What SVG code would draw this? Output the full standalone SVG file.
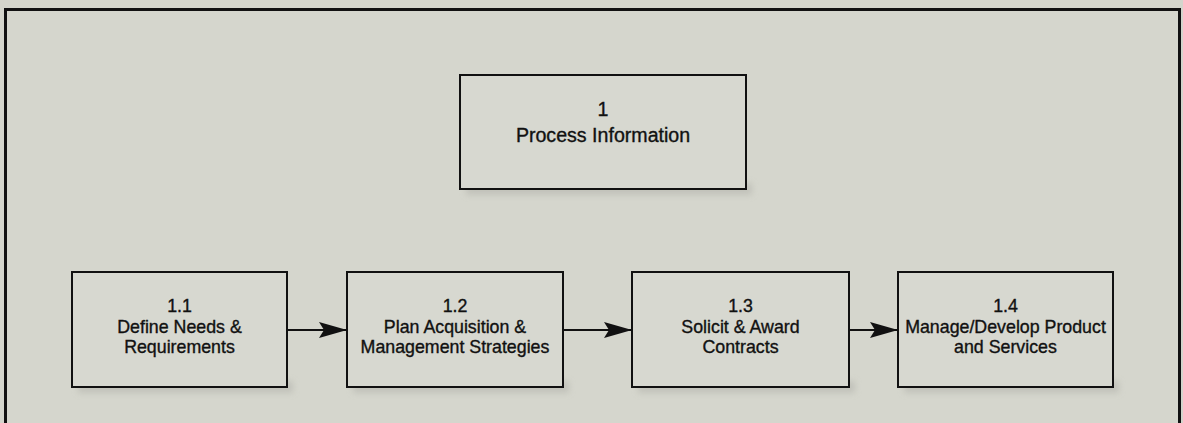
<svg xmlns="http://www.w3.org/2000/svg" width="1183" height="423" viewBox="0 0 1183 423">
<style>
.box{fill:#d7d8d0;stroke:#111;stroke-width:2}
.t{font-family:"Liberation Sans",Arial,sans-serif;font-size:17.8px;fill:#111;stroke:#111;stroke-width:0.35;text-anchor:middle}
.big{font-size:19.6px}
.c{stroke:#111;stroke-width:2;fill:none}
</style>
<defs>
<filter id="sh" x="-10%" y="-10%" width="120%" height="140%"><feGaussianBlur stdDeviation="3"/></filter>
<marker id="ah" markerUnits="userSpaceOnUse" markerWidth="30" markerHeight="18" refX="28" refY="9" orient="auto">
<path d="M0,1 L28,9 L0,17 L5,9 Z" fill="#111"/>
</marker>
</defs>
<rect width="1183" height="423" fill="#d4d5cc"/>
<rect x="5.5" y="9.5" width="1174" height="430" fill="#d5d6cd" stroke="#111" stroke-width="3"/>
<g id="shadows" fill="#b9bab2" opacity="0.7" filter="url(#sh)">
<rect x="466" y="183" width="286" height="12"/>
<rect x="78" y="381" width="215" height="12"/>
<rect x="353" y="381" width="216" height="12"/>
<rect x="638" y="381" width="217" height="12"/>
<rect x="904" y="381" width="215" height="12"/>
</g>
<g id="n1">
<rect class="box" x="460" y="75" width="286" height="114"/>
<text class="t big" x="603" y="116">1</text>
<text class="t big" x="603" y="142">Process Information</text>
</g>
<g id="n11">
<rect class="box" x="72" y="272" width="215" height="115"/>
<text class="t" x="179.5" y="312">1.1</text>
<text class="t" x="179.5" y="333">Define Needs &amp;</text>
<text class="t" x="179.5" y="353">Requirements</text>
</g>
<g id="n12">
<rect class="box" x="347" y="272" width="216" height="115"/>
<text class="t" x="455" y="312">1.2</text>
<text class="t" x="455" y="333">Plan Acquisition &amp;</text>
<text class="t" x="455" y="353">Management Strategies</text>
</g>
<g id="n13">
<rect class="box" x="632" y="272" width="217" height="115"/>
<text class="t" x="740.5" y="312">1.3</text>
<text class="t" x="740.5" y="333">Solicit &amp; Award</text>
<text class="t" x="740.5" y="353">Contracts</text>
</g>
<g id="n14">
<rect class="box" x="898" y="272" width="215" height="115"/>
<text class="t" x="1005.5" y="312">1.4</text>
<text class="t" x="1005.5" y="333">Manage/Develop Product</text>
<text class="t" x="1005.5" y="353">and Services</text>
</g>
<g id="connectors">
<line class="c" x1="287" y1="330" x2="347" y2="330" marker-end="url(#ah)"/>
<line class="c" x1="563" y1="330" x2="632" y2="330" marker-end="url(#ah)"/>
<line class="c" x1="849" y1="330" x2="898" y2="330" marker-end="url(#ah)"/>
</g>
</svg>
